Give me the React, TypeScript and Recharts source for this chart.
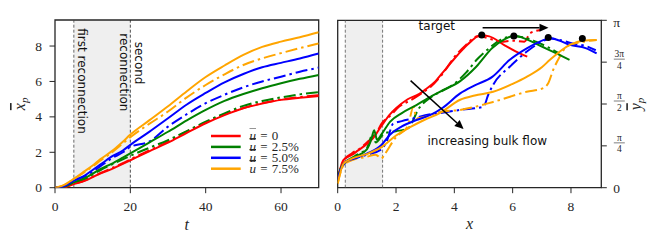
import React from 'react'
import { LineChart, Line, XAxis, YAxis, ReferenceArea, ReferenceLine, ReferenceDot } from 'recharts'

const SERIF = '"Liberation Serif", "Times New Roman", serif'
const SANS = '"DejaVu Sans", sans-serif'
const INK = '#262626'
const DASH_DOT = '12 4 2.5 4'

const flows = ['0', '2.5%', '5.0%', '7.5%']
const colors = ['#ff0000', '#008000', '#0000ff', '#ffa500']

// left panel: mean x position against time
const tSteps = [0, 2, 5, 8, 10, 12, 15, 18, 20, 25, 30, 35, 40, 45, 50, 55, 60, 65, 70]
const xpU0 = [0, 0, 0.2, 0.4, 0.6, 0.8, 1.05, 1.35, 1.55, 2.05, 2.54, 3.1, 3.64, 4.1, 4.49, 4.75, 4.96, 5.08, 5.18]
const xpU0b = [0, 0.02, 0.22, 0.42, 0.62, 0.82, 1.1, 1.38, 1.6, 2.1, 2.6, 3.18, 3.68, 4.15, 4.5, 4.78, 4.98, 5.12, 5.22]
const xpU25 = [0, 0.03, 0.3, 0.55, 0.8, 1.05, 1.35, 1.7, 1.94, 2.55, 3.16, 3.8, 4.39, 4.9, 5.29, 5.62, 5.9, 6.15, 6.37]
const xpU25b = [0, 0.02, 0.28, 0.5, 0.75, 0.98, 1.3, 1.6, 1.8, 2.25, 2.69, 3.2, 3.73, 4.2, 4.62, 4.9, 5.1, 5.27, 5.4]
const xpU50 = [0, 0.05, 0.4, 0.7, 1.0, 1.3, 1.75, 2.1, 2.42, 3.15, 3.92, 4.7, 5.35, 5.95, 6.42, 6.8, 7.05, 7.3, 7.58]
const xpU50b = [0, 0.04, 0.4, 0.65, 0.9, 1.2, 1.65, 2.0, 2.3, 2.6, 3.45, 4.15, 4.77, 5.25, 5.67, 6.0, 6.27, 6.55, 6.78]
const xpU75 = [0, 0.12, 0.5, 0.95, 1.25, 1.6, 2.05, 2.6, 3.0, 3.8, 4.6, 5.45, 6.25, 6.9, 7.5, 7.95, 8.25, 8.5, 8.78]
const xpU75b = [0, 0.1, 0.48, 0.9, 1.2, 1.52, 1.98, 2.5, 2.85, 3.6, 4.3, 5.1, 5.8, 6.4, 6.93, 7.3, 7.6, 7.88, 8.15]

// right panel: trajectories (x, y)
const trackU0: [number, number][] = [[0, 0.15], [0.1, 0.38], [0.2, 0.52], [0.5, 0.62], [0.7, 0.7], [1.0, 0.82], [1.2, 0.92], [1.5, 1.16], [1.8, 1.38], [2.0, 1.49], [2.4, 1.66], [2.8, 1.76], [3.0, 1.84], [3.3, 1.97], [3.6, 2.16], [4.0, 2.42], [4.3, 2.6], [4.6, 2.76], [4.9, 2.86], [5.2, 2.84], [5.7, 2.68], [6.1, 2.56], [6.5, 2.46]]
const trackU0b: [number, number][] = [[0, 0.15], [0.1, 0.36], [0.2, 0.5], [0.5, 0.65], [0.8, 0.75], [1.0, 0.85], [1.3, 1.0], [1.5, 1.2], [1.8, 1.35], [2.1, 1.52], [2.5, 1.64], [2.9, 1.78], [3.2, 1.9], [3.6, 2.14], [4.0, 2.45], [4.4, 2.68], [4.8, 2.84], [5.0, 2.83], [5.3, 2.78], [5.6, 2.74], [6.0, 2.76], [6.4, 2.74], [6.6, 2.9], [6.95, 2.96]]
const trackU25: [number, number][] = [[0, 0.15], [0.1, 0.36], [0.3, 0.5], [0.6, 0.58], [1.0, 0.72], [1.15, 0.9], [1.25, 1.08], [1.35, 0.9], [1.5, 1.0], [1.8, 1.24], [2.2, 1.4], [2.7, 1.55], [3.1, 1.68], [3.5, 1.8], [4.2, 2.0], [4.75, 2.27], [5.3, 2.62], [5.7, 2.78], [6.05, 2.85], [6.5, 2.78], [7.0, 2.65], [7.5, 2.52], [7.95, 2.4]]
const trackU25b: [number, number][] = [[0, 0.15], [0.1, 0.35], [0.3, 0.48], [0.6, 0.6], [1.0, 0.74], [1.2, 1.0], [1.3, 0.85], [1.6, 1.02], [2.0, 1.06], [2.4, 1.11], [2.8, 1.5], [3.2, 1.7], [3.6, 1.82], [4.0, 1.95], [4.4, 2.16], [4.8, 2.42], [5.2, 2.62], [5.6, 2.78], [6.0, 2.84], [6.4, 2.82], [6.8, 2.74], [7.2, 2.64], [7.6, 2.52]]
const trackU50: [number, number][] = [[0, 0.15], [0.1, 0.34], [0.3, 0.5], [0.6, 0.55], [1.0, 0.64], [1.5, 0.8], [1.8, 1.0], [2.2, 1.15], [2.7, 1.27], [3.2, 1.37], [3.6, 1.5], [4.2, 1.77], [4.7, 1.92], [5.3, 2.08], [5.9, 2.4], [6.5, 2.62], [7.05, 2.77], [7.28, 2.81], [7.6, 2.76], [7.96, 2.68], [8.5, 2.62], [8.88, 2.52]]
const trackU50b: [number, number][] = [[0, 0.15], [0.1, 0.33], [0.3, 0.48], [0.6, 0.55], [1.0, 0.62], [1.5, 0.72], [1.7, 0.9], [1.9, 1.2], [2.2, 1.25], [2.6, 1.3], [3.0, 1.36], [3.5, 1.4], [4.2, 1.46], [5.0, 1.52], [5.16, 1.74], [5.33, 1.93], [5.9, 2.27], [6.5, 2.56], [7.0, 2.74], [7.3, 2.8], [7.7, 2.76], [8.1, 2.7], [8.5, 2.66], [8.85, 2.58]]
const trackU75: [number, number][] = [[0, 0.08], [0.2, 0.45], [0.5, 0.55], [1.0, 0.63], [1.5, 0.76], [2.0, 0.98], [2.5, 1.14], [3.0, 1.28], [3.5, 1.4], [4.2, 1.65], [4.7, 1.73], [5.33, 1.8], [6.0, 1.95], [6.48, 2.08], [7.0, 2.26], [7.28, 2.4], [7.96, 2.68], [8.42, 2.76], [8.88, 2.77]]
const trackU75b: [number, number][] = [[0, 0.08], [0.2, 0.42], [0.5, 0.52], [1.0, 0.58], [1.3, 0.62], [1.5, 0.55], [1.6, 0.62], [2.0, 0.95], [2.4, 1.15], [2.6, 1.52], [2.7, 1.3], [3.0, 1.33], [3.5, 1.42], [4.2, 1.46], [5.33, 1.61], [6.48, 1.8], [7.05, 1.87], [7.22, 1.96], [7.39, 2.21], [7.62, 2.46], [7.85, 2.65], [8.42, 2.74], [8.88, 2.77]]
const targets: [number, number][] = [[4.94, 2.865], [6.04, 2.846], [7.22, 2.82], [8.39, 2.8]]

const xpSolid = [xpU0, xpU25, xpU50, xpU75]
const xpDashed = [xpU0b, xpU25b, xpU50b, xpU75b]
const trackSolid = [trackU0, trackU25, trackU50, trackU75]
const trackDashed = [trackU0b, trackU25b, trackU50b, trackU75b]

const xpRows = tSteps.map((t, i) => {
  const row: Record<string, number> = { t }
  flows.forEach((_, k) => {
    row[`s${k}`] = xpSolid[k][i]
    row[`d${k}`] = xpDashed[k][i]
  })
  return row
})
const toPts = (a: [number, number][]) => a.map(([x, y]) => ({ x, y }))

const PI = Math.PI
const piTicks = [0, PI / 4, PI / 2, (3 * PI) / 4, PI]
const piLabels = [['0'], ['π', '4'], ['π', '2'], ['3π', '4'], ['π']]

const TICK_FONT = 13.5

const XTick = ({ x, y, payload }: any) => (
  <text x={x} y={y} dy="0.71em" textAnchor="middle" fontFamily={SERIF} fontSize={TICK_FONT} fill={INK}>
    {payload.value}
  </text>
)

const YTick = ({ x, y, payload }: any) => (
  <text x={x} y={y} dy="0.34em" textAnchor="end" fontFamily={SERIF} fontSize={TICK_FONT} fill={INK}>
    {payload.value}
  </text>
)

const FracTick = (props: any) => {
  const { x, y, payload } = props
  const i = piTicks.findIndex((v) => Math.abs(v - payload.value) < 1e-6)
  const lab = piLabels[i] ?? ['']
  if (lab.length === 1) {
    return (
      <text x={x + 0.5} y={y + (lab[0] === 'π' ? 7 : 4.8)} fontSize={TICK_FONT} fontFamily={SERIF} fill={INK}>
        {lab[0]}
      </text>
    )
  }
  const cx = x + 6.5
  return (
    <g fontFamily={SERIF} fill={INK} fontSize={9.5} textAnchor="middle">
      <text x={cx} y={y - 5}>{lab[0]}</text>
      <line x1={cx - 5.5} x2={cx + 5.5} y1={y - 3} y2={y - 3} stroke={INK} strokeWidth={0.6} />
      <text x={cx} y={y + 6.5}>{lab[1]}</text>
    </g>
  )
}

const AxisTitle = ({ viewBox, dy, text }: any) => (
  <text x={viewBox.x + viewBox.width / 2} y={viewBox.y + dy} textAnchor="middle" fontFamily={SERIF} fontStyle="italic" fontSize={16} fill={INK}>
    {text}
  </text>
)

const MeanTitle = ({ viewBox, dx, sym }: any) => {
  const cx = viewBox.x + dx
  const cy = viewBox.y + viewBox.height / 2
  return (
    <text transform={`rotate(-90 ${cx} ${cy})`} x={cx} y={cy + 4} textAnchor="middle" fontFamily={SERIF} fontStyle="italic" fontSize={16} fill={INK}>
      <tspan style={{ textDecoration: 'overline' }}>{sym}</tspan>
      <tspan fontSize={11} dy={3}>p</tspan>
    </text>
  )
}

const Rotated = ({ viewBox, lines }: any) => (
  <g fontFamily={SANS} fontSize={12} fill="#111">
    {lines.map((l: any) => {
      const x = viewBox.x + l.dx
      const y = viewBox.y + l.dy
      return (
        <text key={l.text} transform={`rotate(90 ${x} ${y})`} x={x} y={y} dominantBaseline="central">
          {l.text}
        </text>
      )
    })}
  </g>
)

const Arrow = (p: any) => {
  const { x1, y1, x2, y2 } = p
  const a = Math.atan2(y2 - y1, x2 - x1)
  const L = 9
  const W = 4
  const bx = x2 - L * Math.cos(a)
  const by = y2 - L * Math.sin(a)
  const pts = `${x2},${y2} ${bx - W * Math.sin(a)},${by + W * Math.cos(a)} ${bx + W * Math.sin(a)},${by - W * Math.cos(a)}`
  return (
    <g>
      <line x1={x1} y1={y1} x2={bx} y2={by} stroke="#000" strokeWidth={1.5} />
      <polygon points={pts} fill="#000" />
    </g>
  )
}

const Note = (text: string) => (p: any) => (
  <text x={p.cx} y={p.cy} textAnchor="middle" dominantBaseline="central" fontFamily={SANS} fontSize={12} fill="#111">
    {text}
  </text>
)

const Legend = () => (
  <svg width={115} height={52} style={{ position: 'absolute', left: 205, top: 128 }}>
    {flows.map((f, k) => {
      const y = 8 + k * 10.9
      return (
        <g key={f}>
          <line x1={6} x2={35.7} y1={y} y2={y} stroke={colors[k]} strokeWidth={2.5} />
          <text x={44.5} y={y + 4.2} fontFamily={SERIF} fontSize={13} fill={INK} wordSpacing={1}>
            <tspan fontStyle="italic" style={{ textDecoration: 'overline' }}>u</tspan>
            <tspan> = {f}</tspan>
          </text>
        </g>
      )
    })}
  </svg>
)

const X_MAX = 9.47

export default function App() {
  return (
    <div style={{ position: 'absolute', left: 0, top: 0, width: 664, height: 249, background: '#fff' }}>
      <div style={{ position: 'absolute', left: 0, top: 0 }}>
        <LineChart width={332} height={249} data={xpRows} margin={{ top: 20, right: 13.3, bottom: 31.3, left: 25 }}>
          <ReferenceArea x1={5} x2={20} y1={0} y2={X_MAX} fill="#efefef" fillOpacity={1} stroke="none" />
          <ReferenceLine
            x={5}
            stroke="#444"
            strokeWidth={0.8}
            strokeDasharray="3 2"
            label={{ content: (p: any) => <Rotated {...p} lines={[{ text: 'first reconnection', dx: 7.9, dy: 8.3 }]} /> }}
          />
          <ReferenceLine
            x={20}
            stroke="#222"
            strokeWidth={0.8}
            strokeDasharray="3 2"
            label={{
              content: (p: any) => (
                <Rotated
                  {...p}
                  lines={[
                    { text: 'second', dx: 8.7, dy: 21.7 },
                    { text: 'reconnection', dx: -6.6, dy: 13.3 },
                  ]}
                />
              ),
            }}
          />
          <XAxis
            dataKey="t"
            type="number"
            domain={[0, 70]}
            ticks={[0, 20, 40, 60]}
            allowDataOverflow
            height={30}
            axisLine={false}
            tickLine={{ stroke: INK }}
            tickSize={5.5}
            tickMargin={8}
            tick={<XTick />}
            label={{ content: (p: any) => <AxisTitle {...p} dy={42.5} text="t" /> }}
          />
          <YAxis
            type="number"
            domain={[0, X_MAX]}
            ticks={[0, 2, 4, 6, 8]}
            allowDataOverflow
            width={30}
            axisLine={false}
            tickLine={{ stroke: INK }}
            tickSize={5.5}
            tickMargin={7.5}
            tick={<YTick />}
            label={{ content: (p: any) => <MeanTitle {...p} dx={-4} sym="x" /> }}
          />
          {flows.map((f, k) => (
            <Line key={`d${k}`} type="monotone" dataKey={`d${k}`} stroke={colors[k]} strokeWidth={2} strokeDasharray={DASH_DOT} dot={false} isAnimationActive={false} />
          ))}
          {flows.map((f, k) => (
            <Line key={`s${k}`} type="monotone" dataKey={`s${k}`} stroke={colors[k]} strokeWidth={2} dot={false} isAnimationActive={false} />
          ))}
          <ReferenceArea x1={0} x2={70} y1={0} y2={X_MAX} fill="none" stroke={INK} strokeWidth={1.3} />
        </LineChart>
        <Legend />
      </div>
      <div style={{ position: 'absolute', left: 332, top: 0 }}>
        <LineChart width={332} height={249} margin={{ top: 20.3, right: 32.7, bottom: 31.3, left: 5.7 }}>
          <ReferenceArea x1={0.26} x2={1.54} y1={0} y2={PI} fill="#efefef" fillOpacity={1} stroke="none" />
          <ReferenceLine x={0.26} stroke="#555" strokeWidth={0.8} strokeDasharray="3 2" />
          <ReferenceLine x={1.54} stroke="#555" strokeWidth={0.8} strokeDasharray="3 2" />
          <XAxis
            dataKey="x"
            type="number"
            domain={[0, 9.04]}
            ticks={[0, 2, 4, 6, 8]}
            allowDataOverflow
            height={30}
            axisLine={false}
            tickLine={{ stroke: INK }}
            tickSize={5.5}
            tickMargin={8}
            tick={<XTick />}
            label={{ content: (p: any) => <AxisTitle {...p} dy={41.5} text="x" /> }}
          />
          <YAxis
            orientation="right"
            type="number"
            domain={[0, PI]}
            ticks={piTicks}
            allowDataOverflow
            width={30}
            axisLine={false}
            tickLine={{ stroke: INK }}
            tickSize={5.5}
            tickMargin={6}
            tick={<FracTick />}
            label={{ content: (p: any) => <MeanTitle {...p} dx={36} sym="y" /> }}
          />
          {flows.map((f, k) => (
            <Line key={`d${k}`} data={toPts(trackDashed[k])} type="monotone" dataKey="y" stroke={colors[k]} strokeWidth={2} strokeDasharray={DASH_DOT} dot={false} isAnimationActive={false} />
          ))}
          {flows.map((f, k) => (
            <Line key={`s${k}`} data={toPts(trackSolid[k])} type="monotone" dataKey="y" stroke={colors[k]} strokeWidth={2} dot={false} isAnimationActive={false} />
          ))}
          <Line data={toPts(targets)} dataKey="y" stroke="none" dot={{ r: 3.5, fill: '#000', stroke: 'none' }} isAnimationActive={false} />
          <ReferenceLine segment={[{ x: 4.97, y: 3.0 }, { x: 7.23, y: 3.0 }]} shape={Arrow} />
          <ReferenceLine segment={[{ x: 2.5, y: 2.01 }, { x: 4.32, y: 1.1 }]} shape={Arrow} />
          <ReferenceDot x={3.4} y={3.035} shape={Note('target')} />
          <ReferenceDot x={5.13} y={0.877} shape={Note('increasing bulk flow')} />
          <ReferenceArea x1={0} x2={9.04} y1={0} y2={PI} fill="none" stroke={INK} strokeWidth={1.3} />
        </LineChart>
      </div>
    </div>
  )
}
